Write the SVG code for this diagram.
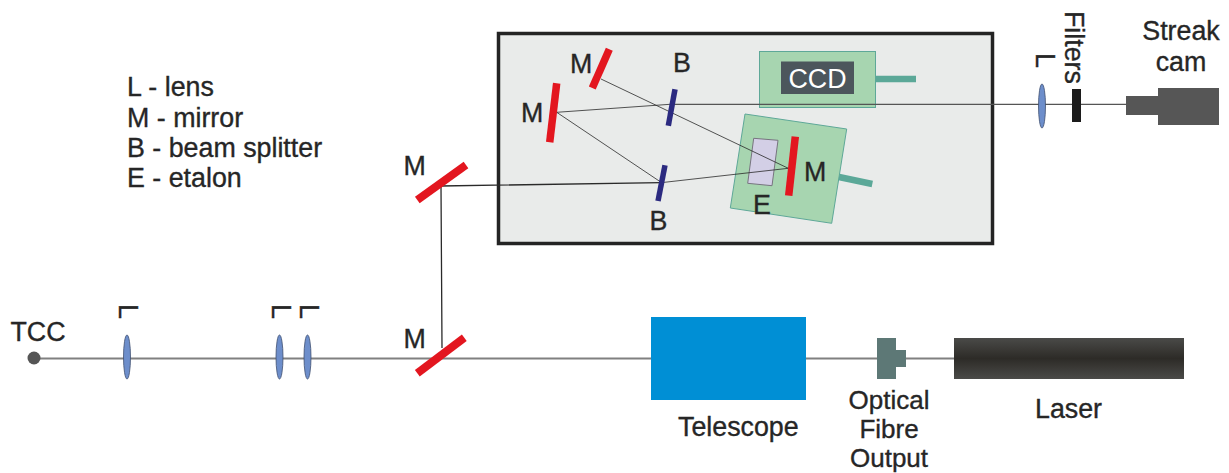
<svg xmlns="http://www.w3.org/2000/svg" width="1229" height="473" viewBox="0 0 1229 473">
<style>
text{font-family:"Liberation Sans",Arial,sans-serif;font-size:26.800px;fill:#262626;stroke:#262626;stroke-width:.35}
#fibre text{font-size:26px}
.mir{stroke:#e3161f;stroke-width:7.500;fill:none}
.bs{stroke:#2b2a80;stroke-width:5.500;fill:none}
.lens{fill:#6d8ecb;stroke:#3f4f70;stroke-width:.8}
.beam{stroke:#808080;stroke-width:2;fill:none}
.thin{stroke:#2a2a2a;stroke-width:.8;fill:none}
.green{fill:#a7d5b0;stroke:#5ea898;stroke-width:1}
.teal{stroke:#5ba898;stroke-width:6.500;fill:none}
</style>
<defs>
<linearGradient id="laserG" x1="0" y1="0" x2="0" y2="1">
<stop offset="0" stop-color="#4a4a48"/><stop offset=".5" stop-color="#2d2b27"/><stop offset="1" stop-color="#4a4a48"/>
</linearGradient>
</defs>
<g id="enclosure"><rect x="498.500" y="33.500" width="494" height="210" fill="#e9ebea" stroke="#242424" stroke-width="3.500"/></g>
<g id="ccd"><rect class="green" x="759.500" y="51.500" width="116" height="56"/><rect x="781" y="61.500" width="73" height="32.500" fill="#4c565c"/><path class="teal" d="M875.500 79H916"/><text x="817.500" y="88" text-anchor="middle" style="fill:#fff;stroke:none">CCD</text></g>
<g id="etalon-stage"><polygon class="green" points="745,114 846.700,129 831.700,223.300 730.300,208"/><polygon points="753.700,138.300 778,140.300 772,185.700 747.700,183.300" fill="#d3cfe6" stroke="#77747f"/><path class="teal" d="M839 177L872.300 184"/><text x="753" y="214">E</text></g>
<g id="connectors">
<path class="beam" d="M34 358.500H954"/>
<path class="thin" style="stroke-width:1.300" d="M442 348L441 186L661 182.700"/>
<path class="thin" d="M661 182.700L788.300 168.300L601 79"/>
<path class="thin" d="M661.700 182.700L556.700 112.300L670 104.300"/>
<path class="beam" style="stroke-width:1.200;stroke:#555" d="M670 104.300H1130"/>
</g>
<g id="mirror-etalon"><path class="mir" d="M795.300 136.700L788.700 195.700"/><text x="804" y="181">M</text></g>
<g id="mirror-top"><path class="mir" d="M609.300 49.300L592.300 88"/><text x="570" y="72.500">M</text></g>
<g id="mirror-left"><path class="mir" d="M556.700 83.300L549.700 142.300"/><text x="521" y="122">M</text></g>
<g id="splitter-top"><path class="bs" d="M675 89.300L668.300 125.700"/><text x="673" y="72">B</text></g>
<g id="splitter-bottom"><path class="bs" d="M665 165.300L658 201"/><text x="649.500" y="229.500">B</text></g>
<g id="mirror-upper"><path class="mir" style="stroke-width:8" d="M466 165L417.300 200"/><text x="403.500" y="175">M</text></g>
<g id="mirror-lower"><path class="mir" style="stroke-width:8" d="M464.300 337.700L417.300 373.300"/><text x="403.500" y="348">M</text></g>
<g id="legend"><text x="127" y="96">L - lens</text><text x="127" y="127">M - mirror</text><text x="127" y="157">B - beam splitter</text><text x="127" y="187">E - etalon</text></g>
<g id="tcc"><circle cx="34" cy="358" r="6.500" fill="#555"/><text x="10.500" y="341">TCC</text></g>
<g id="lens-1"><ellipse class="lens" cx="127" cy="357" rx="3.500" ry="22"/><text transform="translate(119 304) rotate(90)">L</text></g>
<g id="lens-2"><ellipse class="lens" cx="279.500" cy="357" rx="3.500" ry="22"/><text transform="translate(272 304) rotate(90)">L</text></g>
<g id="lens-3"><ellipse class="lens" cx="307.500" cy="357" rx="3.500" ry="22"/><text transform="translate(300 304) rotate(90)">L</text></g>
<g id="lens-top"><ellipse class="lens" cx="1042" cy="106" rx="3.500" ry="22"/><text transform="translate(1036 53) rotate(90)">L</text></g>
<g id="filters"><rect x="1072" y="89" width="9" height="33" fill="#1c1c1c"/><text transform="translate(1065 11) rotate(90)">Filters</text></g>
<g id="streak-cam"><rect x="1126" y="96" width="33" height="19" fill="#565656"/><rect x="1158" y="88" width="61" height="37" fill="#565656"/><text x="1181" y="40" text-anchor="middle">Streak</text><text x="1181" y="70.500" text-anchor="middle">cam</text></g>
<g id="telescope"><rect x="651" y="317" width="155" height="83" fill="#008fd5"/><text x="678" y="436">Telescope</text></g>
<g id="fibre"><path d="M877 338H896V350H906V367H896V379H877Z" fill="#5d7876"/><text x="889" y="408.500" text-anchor="middle">Optical</text><text x="889" y="438" text-anchor="middle">Fibre</text><text x="889" y="467.300" text-anchor="middle">Output</text></g>
<g id="laser"><rect x="954" y="338" width="230" height="41" fill="url(#laserG)"/><text x="1035" y="418">Laser</text></g>
</svg>
